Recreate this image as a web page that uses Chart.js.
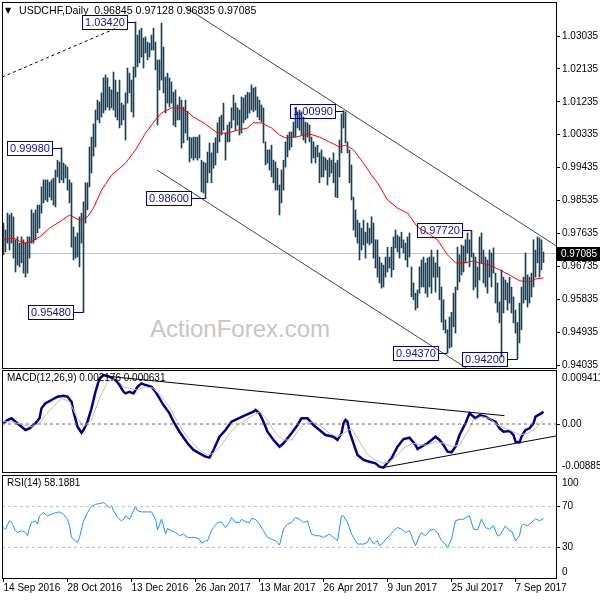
<!DOCTYPE html>
<html>
<head>
<meta charset="utf-8">
<script src="https://cdn.jsdelivr.net/npm/chart.js@4.4.0/dist/chart.umd.min.js"></script>
<style>
body { margin: 0; background: #fff; }
#wrap { position: relative; width: 600px; height: 600px; overflow: hidden; }
canvas { position: absolute; left: 0; top: 0; }
#wm { position: absolute; left: 150px; top: 317px; font: 24px "Liberation Sans", Arial, sans-serif; line-height: 24px; color: #c6c6c6; }
</style>
</head>
<body>
<div id="wrap">
  <div id="wm">ActionForex.com</div>
  <canvas id="main" width="600" height="600"></canvas>
  <canvas id="macd" width="600" height="600"></canvas>
  <canvas id="rsi" width="600" height="600"></canvas>
</div>
<script>
// daily bars, index 0 = 14 Sep 2016
const highs = [
  0.9792,0.9773,0.9819,0.9814,0.9819,0.9809,0.9746,0.9754,0.9737,0.9754,
  0.9746,0.9737,0.9754,0.9754,0.9828,0.9819,0.9828,0.9841,0.9841,0.9891,
  0.9910,0.9910,0.9910,0.9904,0.9910,0.9915,0.9937,0.9964,0.9959,0.9998,
  0.9956,0.9951,0.9945,0.9910,0.9902,0.9781,0.9754,0.9765,0.9809,0.9819,
  0.9850,0.9902,0.9902,1.0000,1.0027,1.0063,1.0101,1.0128,1.0123,1.0148,
  1.0189,1.0197,1.0189,1.0164,1.0156,1.0205,1.0183,1.0150,1.0183,1.0120,
  1.0115,1.0148,1.0216,1.0202,1.0183,1.0219,1.0342,1.0306,1.0320,1.0325,
  1.0298,1.0301,1.0287,1.0284,1.0306,1.0325,1.0287,1.0238,1.0238,1.0339,
  1.0273,1.0191,1.0202,1.0189,1.0178,1.0150,1.0156,1.0115,1.0137,1.0128,
  1.0109,1.0128,1.0098,1.0027,1.0025,1.0027,1.0027,1.0027,1.0033,0.9964,
  0.9959,0.9956,0.9986,1.0011,0.9984,1.0011,1.0025,1.0066,1.0082,1.0087,
  1.0120,1.0038,1.0060,1.0068,1.0107,1.0142,1.0120,1.0107,1.0101,1.0137,
  1.0134,1.0142,1.0150,1.0148,1.0170,1.0161,1.0164,1.0137,1.0128,1.0115,
  1.0107,1.0014,0.9992,0.9992,1.0005,0.9964,0.9959,0.9942,0.9896,0.9937,
  0.9964,1.0014,1.0033,1.0041,1.0041,1.0068,1.0107,1.0096,1.0101,1.0096,
  1.0082,1.0068,1.0066,1.0060,1.0027,1.0014,1.0000,1.0005,0.9984,0.9992,
  0.9973,0.9970,0.9964,0.9970,0.9964,0.9984,0.9956,0.9964,1.0019,1.0090,
  1.0099,1.0096,1.0014,0.9992,0.9951,0.9863,0.9828,0.9800,0.9792,0.9778,
  0.9800,0.9767,0.9792,0.9778,0.9809,0.9792,0.9746,0.9746,0.9699,0.9683,
  0.9677,0.9699,0.9726,0.9699,0.9726,0.9754,0.9773,0.9759,0.9754,0.9767,
  0.9746,0.9737,0.9754,0.9765,0.9672,0.9628,0.9600,0.9609,0.9672,0.9691,
  0.9699,0.9683,0.9696,0.9699,0.9718,0.9699,0.9683,0.9718,0.9672,0.9617,
  0.9582,0.9527,0.9500,0.9535,0.9548,0.9600,0.9617,0.9726,0.9705,0.9732,
  0.9729,0.9746,0.9765,0.9746,0.9772,0.9710,0.9699,0.9672,0.9754,0.9765,
  0.9718,0.9699,0.9691,0.9718,0.9710,0.9724,0.9655,0.9628,0.9576,0.9664,
  0.9644,0.9636,0.9628,0.9644,0.9617,0.9590,0.9554,0.9520,0.9573,0.9617,
  0.9644,0.9710,0.9650,0.9644,0.9655,0.9746,0.9718,0.9754,0.9751,0.9746,
  0.9713
];
const lows = [
  0.9705,0.9713,0.9737,0.9718,0.9737,0.9696,0.9658,0.9677,0.9672,0.9683,
  0.9655,0.9644,0.9655,0.9696,0.9737,0.9737,0.9746,0.9765,0.9778,0.9819,
  0.9847,0.9855,0.9850,0.9863,0.9855,0.9841,0.9836,0.9918,0.9902,0.9910,
  0.9902,0.9915,0.9882,0.9847,0.9726,0.9691,0.9696,0.9699,0.9672,0.9737,
  0.9548,0.9792,0.9828,0.9891,0.9929,0.9975,1.0000,1.0074,1.0066,1.0082,
  1.0093,1.0101,1.0109,1.0101,1.0107,1.0101,1.0082,1.0074,1.0052,1.0060,
  1.0074,1.0019,1.0120,1.0148,1.0096,1.0082,1.0191,1.0219,1.0230,1.0246,
  1.0216,1.0257,1.0238,1.0246,1.0265,1.0265,1.0211,1.0060,1.0156,1.0183,
  1.0148,1.0093,1.0120,1.0109,1.0120,1.0060,1.0055,1.0074,1.0074,0.9997,
  1.0011,1.0038,1.0019,0.9959,0.9970,0.9964,0.9970,0.9964,0.9970,0.9877,
  0.9874,0.9860,0.9902,0.9929,0.9902,0.9942,0.9951,0.9984,1.0014,1.0033,
  1.0046,0.9964,1.0014,1.0014,1.0052,1.0074,1.0046,1.0060,1.0033,1.0038,
  1.0066,1.0074,1.0079,1.0093,1.0101,1.0096,1.0101,1.0082,1.0074,1.0068,
  1.0011,0.9951,0.9956,0.9937,0.9918,0.9902,0.9882,0.9882,0.9814,0.9847,
  0.9882,0.9945,0.9973,0.9992,1.0000,1.0027,1.0027,1.0052,1.0046,1.0033,
  1.0019,1.0011,1.0027,1.0014,0.9956,0.9970,0.9956,0.9973,0.9902,0.9918,
  0.9918,0.9937,0.9896,0.9918,0.9929,0.9902,0.9863,0.9861,0.9918,0.9984,
  1.0052,1.0011,0.9984,0.9902,0.9855,0.9773,0.9754,0.9737,0.9691,0.9718,
  0.9732,0.9696,0.9737,0.9732,0.9737,0.9696,0.9669,0.9644,0.9628,0.9614,
  0.9617,0.9644,0.9658,0.9669,0.9644,0.9664,0.9724,0.9713,0.9696,0.9724,
  0.9710,0.9691,0.9672,0.9699,0.9590,0.9582,0.9554,0.9560,0.9600,0.9617,
  0.9617,0.9600,0.9590,0.9617,0.9600,0.9644,0.9603,0.9644,0.9582,0.9521,
  0.9500,0.9491,0.9437,0.9450,0.9453,0.9508,0.9491,0.9609,0.9631,0.9650,
  0.9658,0.9683,0.9710,0.9672,0.9699,0.9609,0.9617,0.9587,0.9636,0.9683,
  0.9628,0.9617,0.9600,0.9644,0.9617,0.9655,0.9573,0.9548,0.9519,0.9426,
  0.9546,0.9582,0.9554,0.9573,0.9546,0.9519,0.9491,0.9420,0.9464,0.9500,
  0.9573,0.9582,0.9562,0.9573,0.9590,0.9617,0.9644,0.9683,0.9644,0.9664,
  0.9684
];
const lastClose = 0.97085;

// moving average (red), read at these bar indices
const maIdx = [0,5,10,13,18,23,28,33,38,42,45,49,54,61,66,71,76,79,84,88,92,95,100,107,112,117,122,125,129,134,
  138,141,146,153,158,163,168,171,175,180,184,187,192,197,202,207,212,217,222,226,230,235,238,243,248,253,258,263,266,270];
const maVal = [0.9746,0.9751,0.9737,0.9740,0.9754,0.9778,0.9795,0.9814,0.9800,0.9809,0.9833,0.9882,0.9923,0.9956,0.9992,
  1.0038,1.0074,1.0093,1.0107,1.0107,1.0096,1.0082,1.0066,1.0038,1.0038,1.0046,1.0052,1.0066,1.0066,1.0052,
  1.0033,1.0025,1.0027,1.0036,1.0027,1.0014,1.0000,1.0005,0.9992,0.9956,0.9923,0.9902,0.9855,0.9833,0.9819,
  0.9781,0.9765,0.9746,0.9705,0.9683,0.9683,0.9688,0.9683,0.9677,0.9664,0.9650,0.9634,0.9631,0.9639,0.9642];

// MACD main line
const macdIdx = [0,2,4,6,9,11,13,16,18,19,21,24,27,30,32,34,35,37,39,40,42,44,46,48,50,53,56,58,60,61,63,65,67,69,71,74,76,78,80,83,
  85,88,92,95,98,101,103,105,108,111,114,117,121,125,126,128,130,132,135,138,140,144,147,149,152,155,158,161,165,167,
  169,170,171,172,173,175,177,180,183,186,188,190,191,194,197,200,203,206,207,209,212,214,216,218,220,222,224,226,228,231,
  233,236,238,241,244,246,248,250,253,255,256,258,259,261,263,265,266,268,270];
const macdVal = [0.00013,0.00072,0.00102,0.00041,-0.00048,-0.00107,-0.00077,0.00013,0.00102,0.00281,0.00371,0.00430,0.00489,0.00507,0.00489,0.00399,0.00220,-0.00048,-0.00156,-0.00107,
  0.00041,0.00281,0.00578,0.00818,0.00877,0.00847,0.00788,0.00698,0.00578,0.00549,0.00578,0.00549,0.00668,0.00729,0.00698,0.00668,0.00578,0.00460,0.00340,0.00191,
  0.00041,-0.00138,-0.00346,-0.00465,-0.00525,-0.00585,-0.00603,-0.00465,-0.00227,-0.00107,0.00041,0.00090,0.00161,0.00220,0.00251,0.00191,0.00041,-0.00138,-0.00286,-0.00406,
  -0.00346,-0.00167,-0.00018,0.00102,0.00102,-0.00018,-0.00107,-0.00197,-0.00227,-0.00286,-0.00167,0.00013,0.00072,0.00041,-0.00138,-0.00346,-0.00555,-0.00644,-0.00675,-0.00704,
  -0.00764,-0.00782,-0.00734,-0.00614,-0.00406,-0.00269,-0.00245,-0.00376,-0.00448,-0.00406,-0.00346,-0.00286,-0.00227,-0.00286,-0.00376,-0.00496,-0.00507,-0.00406,-0.00197,0.00013,
  0.00191,0.00102,0.00161,0.00131,0.00072,0.00041,-0.00077,-0.00138,-0.00125,-0.00197,-0.00316,-0.00328,-0.00227,-0.00107,-0.00077,0.00013,0.00131,0.00173,0.00218];

// MACD signal line
const sigIdx = [0,4,10,14,18,21,25,29,33,37,40,44,48,52,56,60,63,67,71,75,79,83,86,90,94,98,102,105,109,113,117,121,125,128,132,136,140,144,147,151,
  155,159,163,167,170,174,178,182,186,190,193,197,201,205,209,212,216,220,224,228,232,235,239,243,247,251,255,258,262,266,270];
const sigVal = [0.00041,0.00041,-0.00018,-0.00048,0.00013,0.00161,0.00310,0.00460,0.00399,0.00102,-0.00048,0.00072,0.00460,0.00758,0.00818,0.00668,0.00639,0.00609,0.00668,0.00639,
  0.00489,0.00310,0.00102,-0.00138,-0.00316,-0.00465,-0.00555,-0.00525,-0.00376,-0.00167,-0.00018,0.00072,0.00161,0.00220,0.00072,-0.00167,-0.00286,-0.00286,-0.00138,0.00013,
  0.00041,-0.00048,-0.00167,-0.00227,-0.00167,-0.00077,-0.00316,-0.00555,-0.00644,-0.00704,-0.00675,-0.00555,-0.00406,-0.00346,-0.00376,-0.00376,-0.00316,-0.00346,-0.00406,-0.00376,
  -0.00138,0.00072,0.00131,0.00102,-0.00018,-0.00077,-0.00138,-0.00197,-0.00167,-0.00077,0.00063];

// RSI(14)
const rsiIdx = [0,1,3,4,6,7,9,11,12,13,14,16,17,18,20,22,24,26,28,30,32,33,34,36,37,38,39,40,42,44,46,48,50,51,53,54,55,57,59,60,
  61,63,65,66,67,69,72,74,76,77,79,80,81,82,84,86,88,90,92,94,96,98,99,101,102,104,105,107,109,111,113,114,116,118,119,121,123,124,126,128,
  130,132,134,136,138,140,142,144,146,148,150,152,154,156,158,160,163,165,166,167,169,170,172,174,177,180,182,183,185,187,188,190,191,193,195,197,199,201,203,205,
  206,208,209,211,213,215,217,219,221,222,224,226,228,230,231,233,235,237,239,241,243,245,247,248,251,253,254,256,258,259,260,262,264,266,268,270];
const rsiVal = [49.5,47.9,56.0,55.0,46.3,44.6,46.3,44.6,41.4,49.5,54.4,56.0,52.8,60.9,64.1,60.9,62.5,64.1,64.8,62.5,57.6,51.1,39.8,36.5,34.9,39.8,47.9,56.0,64.1,70.0,72.3,72.9,73.9,72.3,69.0,70.7,65.8,59.3,56.0,57.6,
  60.9,57.6,65.8,70.0,65.8,64.8,64.8,64.8,57.6,47.2,57.6,51.1,43.0,48.5,46.3,44.6,41.4,43.0,39.8,39.8,39.8,38.1,34.2,36.5,36.5,46.3,49.5,54.4,55.0,49.5,54.4,59.3,54.4,54.4,57.6,55.0,54.4,58.3,57.6,52.8,
  46.3,39.8,38.1,36.5,32.3,47.9,52.8,54.4,59.3,57.6,54.4,56.0,43.0,41.4,41.4,39.8,43.0,39.8,38.1,36.5,60.9,60.9,54.4,43.0,33.3,33.3,34.9,39.8,33.3,36.5,31.6,34.9,38.1,41.4,46.3,49.5,47.9,44.6,46.3,36.5,
  31.6,41.4,44.6,41.4,46.3,47.9,44.6,36.5,33.3,29.3,38.1,56.0,57.6,57.6,59.3,60.9,47.9,47.2,57.6,49.5,47.9,51.1,41.4,41.4,51.1,46.3,46.3,36.5,41.4,51.1,52.8,51.1,54.4,58.3,56.0,58.2];
const rsiLevels = [30, 70];

// axis ticks
const priceTicks = [0.94035,0.94935,0.95835,0.96735,0.97635,0.98535,0.99435,1.00335,1.01235,1.02135,1.03035];
const dateIdx = [0,32,64,96,128,160,192,224,256];
const dateLabels = ['14 Sep 2016','28 Oct 2016','13 Dec 2016','26 Jan 2017','13 Mar 2017','26 Apr 2017','9 Jun 2017','25 Jul 2017','7 Sep 2017'];

// drawn trend lines (bar index, value)
const channelTop = { x: [90.75, 276.25], y: [1.0383, 0.9730] };
const channelBottom = { x: [76.75, 231.25], y: [0.9937, 0.9396] };
const dottedLine = { x: [-0.75, 57.25], y: [1.0191, 1.0327] };
const macdTop = { x: [52, 250.5], y: [0.00856, 0.00149] };
const macdBottom = { x: [189.4, 276.25], y: [-0.00782, -0.00215] };

// swing labels: price, bar it points at, bar index of the box's right edge
const swings = [
  { text: '1.03420', price: 1.0342, bar: 66, box: 61.75 },
  { text: '0.99980', price: 0.9998, bar: 29, box: 24.1 },
  { text: '0.95480', price: 0.9548, bar: 40, box: 34.9 },
  { text: '0.98600', price: 0.9860, bar: 101, box: 93.9 },
  { text: '1.00990', price: 1.0099, bar: 170, box: 165.9 },
  { text: '0.97720', price: 0.9772, bar: 234, box: 229.4 },
  { text: '0.94370', price: 0.9437, bar: 222, box: 217.25 },
  { text: '0.94200', price: 0.9420, bar: 257, box: 251.9 }
];

const FAMILY = '"Liberation Sans", Arial, sans-serif';
Chart.defaults.font.family = FAMILY;
Chart.defaults.font.size = 10;
Chart.defaults.color = '#000';
Chart.defaults.animation = false;
Chart.defaults.elements.point.radius = 0;
Chart.defaults.elements.line.borderWidth = 1;
Chart.defaults.elements.line.tension = 0;

const pts = (xs, ys) => xs.map((x, k) => ({ x: x, y: ys[k] }));
const lineSet = (data, color, extra) => Object.assign({ type: 'line', data: data, borderColor: color, borderWidth: 1, pointRadius: 0, fill: false }, extra || {});
const flat = (v) => [{ x: -0.75, y: v }, { x: 276.25, y: v }];

function xAxis(show) {
  return {
    type: 'linear', min: -0.75, max: 276.25, display: show, offset: false,
    afterBuildTicks: (s) => { s.ticks = dateIdx.map((v) => ({ value: v })); },
    afterFit: (s) => { if (show) s.height = 18; s.paddingLeft = 0; s.paddingRight = 0; },
    ticks: { autoSkip: false, maxRotation: 0, align: 'start', padding: 0, font: { size: 10 },
      callback: (v) => dateLabels[dateIdx.indexOf(v)] },
    grid: { drawOnChartArea: false, offset: false, tickLength: 4, color: '#000' },
    border: { display: false }
  };
}

function yAxis(min, max, ticks, fmt) {
  return {
    position: 'right', min: min, max: max,
    afterFit: (s) => { s.width = 44; s.paddingTop = 0; s.paddingBottom = 0; },
    afterBuildTicks: (s) => { s.ticks = ticks.map((v) => ({ value: v })); },
    ticks: { padding: 2, font: { size: 10 }, callback: fmt },
    grid: { drawOnChartArea: false, tickLength: 4, color: '#000' },
    border: { display: false }
  };
}

const frame = {
  id: 'frame',
  afterDraw(chart) {
    const { ctx, chartArea: a } = chart;
    ctx.save();
    ctx.strokeStyle = '#000';
    ctx.lineWidth = 1;
    ctx.strokeRect(a.left + 0.5, a.top - 0.5, a.right - a.left, a.bottom - a.top + 1);
    ctx.restore();
  }
};

// panel caption and the extreme value labels MT4 puts inside the price column
function captions(title, extras) {
  return {
    id: 'captions',
    afterDraw(chart) {
      const { ctx, chartArea: a } = chart;
      ctx.save();
      ctx.font = '10px ' + FAMILY;
      ctx.fillStyle = '#000';
      ctx.textBaseline = 'middle';
      ctx.fillText(title, 7, a.top + 7);
      extras.forEach((e) => {
        const y = e.top ? a.top + 7 : a.bottom - 6;
        ctx.fillText(e.text, a.right + 6, y);
      });
      ctx.restore();
    }
  };
}

const mainDecor = {
  id: 'mainDecor',
  afterDatasetsDraw(chart) {
    const { ctx, scales: { x, y } } = chart;
    ctx.save();
    ctx.font = '11px ' + FAMILY;
    ctx.textBaseline = 'middle';
    swings.forEach((s) => {
      const py = Math.round(y.getPixelForValue(s.price)) + 0.5;
      const bx = Math.round(x.getPixelForValue(s.box)) + 0.5;
      const px = x.getPixelForValue(s.bar);
      const w = Math.ceil(ctx.measureText(s.text).width) + 5;
      ctx.strokeStyle = '#000080';
      ctx.lineWidth = 1;
      ctx.beginPath();
      ctx.moveTo(bx, py);
      ctx.lineTo(px, py);
      ctx.stroke();
      ctx.strokeRect(bx - w, py - 7, w, 14);
      ctx.fillStyle = '#10109a';
      ctx.textAlign = 'center';
      ctx.fillText(s.text, bx - w / 2, py + 0.5);
    });
    ctx.restore();
  },
  afterDraw(chart) {
    const { ctx, scales: { y }, chartArea: a } = chart;
    ctx.save();
    // last price tag
    const py = Math.round(y.getPixelForValue(lastClose));
    ctx.fillStyle = '#000';
    ctx.fillRect(a.right, py - 7, 600 - a.right, 14);
    ctx.fillStyle = '#fff';
    ctx.font = '10px ' + FAMILY;
    ctx.textBaseline = 'middle';
    ctx.fillText(lastClose.toFixed(5), a.right + 5, py);
    // title
    ctx.fillStyle = '#000';
    ctx.font = '8px "DejaVu Sans", sans-serif';
    ctx.fillText('▼', 5, 11);
    ctx.font = '10.6px ' + FAMILY;
    ctx.fillText('USDCHF,Daily  0.96845 0.97128 0.96835 0.97085', 19, 11);
    ctx.restore();
  }
};

const baseOpts = (padding) => ({
  responsive: false,
  animation: false,
  events: [],
  layout: { padding: padding },
  plugins: { legend: { display: false }, tooltip: { enabled: false } }
});

// price panel
new Chart(document.getElementById('main'), {
  type: 'bar',
  data: {
    datasets: [
      lineSet(flat(lastClose), '#c0c0c0', { order: 9 }),
      { type: 'bar', data: highs.map((h, i) => ({ x: i, y: [lows[i], h] })), backgroundColor: '#17405c',
        barThickness: 1, borderWidth: 0, order: 5 },
      lineSet(pts(maIdx, maVal), '#ff0000', { order: 1 }),
      lineSet(pts(channelTop.x, channelTop.y), '#3a4a4a', { order: 2 }),
      lineSet(pts(channelBottom.x, channelBottom.y), '#3a4a4a', { order: 2 }),
      lineSet(pts(dottedLine.x, dottedLine.y), '#000', { borderDash: [3, 3], order: 2 })
    ]
  },
  options: Object.assign(baseOpts({ left: 2, top: 3, right: 0, bottom: 232 }), {
    scales: {
      x: xAxis(false),
      y: yAxis(0.93955, 1.03938, priceTicks, (v) => v.toFixed(5))
    }
  }),
  plugins: [frame, mainDecor]
});

// MACD panel
new Chart(document.getElementById('macd'), {
  type: 'line',
  data: {
    datasets: [
      lineSet(flat(0), '#707070', { borderDash: [3, 3] }),
      lineSet(pts(sigIdx, sigVal), '#bdbdbd'),
      lineSet(pts(macdIdx, macdVal), '#00008b', { borderWidth: 2.5 }),
      lineSet(pts(macdTop.x, macdTop.y), '#000'),
      lineSet(pts(macdBottom.x, macdBottom.y), '#000')
    ]
  },
  options: Object.assign(baseOpts({ left: 2, top: 371, right: 0, bottom: 128 }), {
    scales: {
      x: xAxis(false),
      y: yAxis(-0.0086, 0.0095, [0], () => '0.00')
    }
  }),
  plugins: [frame, captions('MACD(12,26,9) 0.002176 0.000631', [{ text: '0.009411', top: true }, { text: '-0.008852', top: false }])]
});

// RSI panel
new Chart(document.getElementById('rsi'), {
  type: 'line',
  data: {
    datasets: rsiLevels.map((v) => lineSet(flat(v), '#c0c0c0', { borderDash: [3, 3] })).concat([
      lineSet(pts(rsiIdx, rsiVal), '#1e90ff')
    ])
  },
  options: Object.assign(baseOpts({ left: 2, top: 476, right: 0, bottom: 4 }), {
    scales: {
      x: xAxis(true),
      y: yAxis(0, 100, rsiLevels, (v) => String(v))
    }
  }),
  plugins: [frame, captions('RSI(14) 58.1881', [{ text: '100', top: true }, { text: '0', top: false }])]
});
</script>
</body>
</html>
